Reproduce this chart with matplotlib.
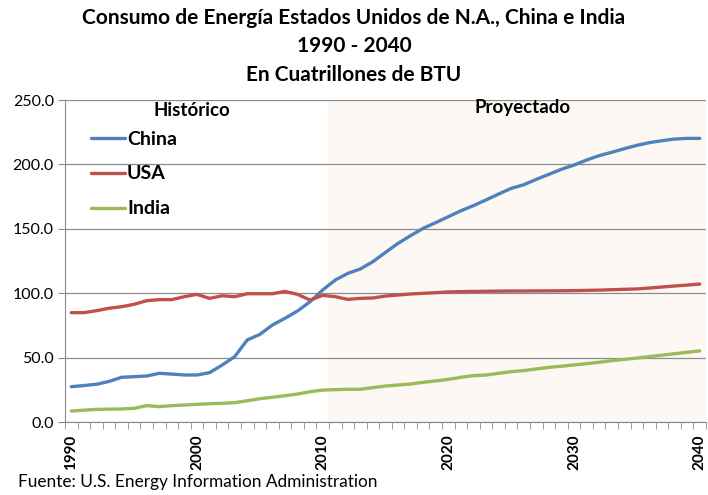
import matplotlib
matplotlib.use("Agg")
import matplotlib.pyplot as plt
import numpy as np

years = list(range(1990, 2041))
china = [27.4, 28.3, 29.3, 31.5, 34.7, 35.2, 35.7, 37.8, 37.2, 36.5,
         36.5, 38.3, 44.2, 50.7, 63.7, 68.0, 75.3, 80.5, 86.2, 93.4,
         102.5, 110.2, 115.4, 118.8, 124.5, 131.7, 138.7, 144.7, 150.4, 154.8,
         159.4, 164.0, 168.0, 172.4, 177.0, 181.4, 184.2, 188.4, 192.3, 196.2,
         199.5, 203.4, 206.8, 209.4, 212.2, 214.8, 216.9, 218.4, 219.7, 220.2,
         220.2]
usa = [84.9, 84.9, 86.4, 88.3, 89.5, 91.4, 94.2, 95.0, 95.0, 97.3,
       99.1, 96.0, 98.0, 97.3, 99.6, 99.6, 99.6, 101.4, 99.1, 94.7,
       98.3, 97.3, 95.2, 96.0, 96.3, 97.8, 98.6, 99.4, 99.9, 100.4,
       101.0, 101.2, 101.4, 101.5, 101.6, 101.7, 101.7, 101.8, 101.8, 101.9,
       102.0, 102.2, 102.4, 102.7, 103.0, 103.3, 104.0, 104.8, 105.6, 106.3,
       107.1]
india = [8.5, 9.2, 9.8, 10.0, 10.1, 10.6, 12.7, 11.9, 12.7, 13.2,
         13.7, 14.2, 14.5, 15.0, 16.5, 18.1, 19.2, 20.4, 21.7, 23.5,
         24.8, 25.1, 25.4, 25.4, 26.7, 27.9, 28.7, 29.5, 30.8, 31.9,
         33.1, 34.7, 36.0, 36.5, 37.8, 39.1, 39.9, 41.2, 42.4, 43.3,
         44.3, 45.3, 46.4, 47.6, 48.6, 49.6, 50.8, 51.9, 53.0, 54.1,
         55.2]
series_names = ["China", "USA", "India"]
series_colors = ["#4F81BD", "#C0504D", "#9BBB59"]
xtick_years = [1990, 2000, 2010, 2020, 2030, 2040]
yticks = [0, 50, 100, 150, 200, 250]

title_lines = ["Consumo de Energía Estados Unidos de N.A., China e India",
               "1990 - 2040",
               "En Cuatrillones de BTU"]
source = "Fuente: U.S. Energy Information Administration"

plt.rcParams['font.family'] = ['Lato', 'DejaVu Sans']

W, H = 708, 495
fig = plt.figure(figsize=(W / 100, H / 100), dpi=100)
ax = fig.add_axes([65 / W, 1 - 422 / H, 641 / W, 322 / H])

ax.axvspan(2010.4, 2040.5, color="#FDF8F3", zorder=0, lw=0)

for vals, name, col in zip([china, usa, india], series_names, series_colors):
    ax.plot(years, vals, color=col, lw=2.4, label=name, zorder=3,
            solid_joinstyle="round", solid_capstyle="round")

ax.set_xlim(1989.5, 2040.5)
ax.set_ylim(0, 250)
ax.set_yticks(yticks)
ax.set_yticklabels([f"{v:.1f}" for v in yticks], fontsize=11.5)
ax.yaxis.grid(True, color="#8C8C8C", lw=0.9)
ax.set_axisbelow(True)

ax.set_xticks(xtick_years)
ax.set_xticklabels([str(y) for y in xtick_years], rotation=90, fontweight="bold", fontsize=11)
ax.set_xticks(np.arange(1989.5, 2041, 1), minor=True)
ax.tick_params(axis="x", which="major", length=0, pad=9)
ax.tick_params(axis="x", which="minor", length=5, color="#8C8C8C")
ax.tick_params(axis="y", length=5, color="#8C8C8C", pad=3)

for s in ["top", "right"]:
    ax.spines[s].set_visible(False)
for s in ["left", "bottom"]:
    ax.spines[s].set_color("#8C8C8C")

ax.text(1999.6, 241.5, "Histórico", fontsize=13.5, fontweight="bold", ha="center", va="center")
ax.text(2025.9, 244.5, "Proyectado", fontsize=13.5, fontweight="bold", ha="center", va="center")

leg = ax.legend(loc="upper left", bbox_to_anchor=(0.0406, 0.905), frameon=False,
                prop={"weight": "bold", "size": 14}, handlelength=1.75,
                handletextpad=0.1, labelspacing=0.92, borderpad=0, borderaxespad=0)

for txt, yc in zip(title_lines, [18, 46, 75]):
    fig.text(0.5, 1 - yc / H, txt, ha="center", va="center", fontsize=15, fontweight="bold")
fig.text(18 / W, 1 - 482 / H, source, ha="left", va="center", fontsize=12.4)

fig.savefig("out.png", dpi=100)
